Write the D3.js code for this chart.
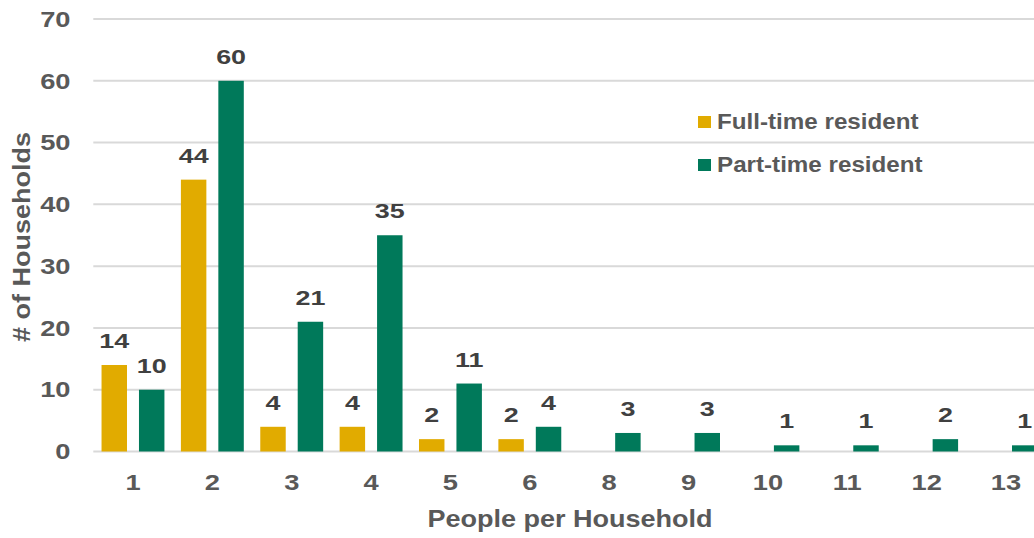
<!DOCTYPE html>
<html>
<head>
    <title>People per Household</title>
    <script src="https://cdnjs.cloudflare.com/ajax/libs/d3/7.8.5/d3.min.js"></script>
    <style>
        html, body { margin: 0; padding: 0; background: #fff; overflow: hidden; }
        svg { display: block; font-family: "Liberation Sans", Arial, sans-serif; font-weight: bold; }
        .grid line { stroke: #d9d9d9; stroke-width: 2px; }
        .tick-label { fill: #595959; font-size: 21.5px; }
        .data-label { fill: #404040; font-size: 21px; }
        .legend-label { fill: #595959; font-size: 22px; }
        .axis-title { fill: #595959; font-size: 23.5px; }
    </style>
</head>
<body>
    <div id="chart"></div>
    <script>
        // Chart data
        const categories = ["1", "2", "3", "4", "5", "6", "8", "9", "10", "11", "12", "13"];
        const fullTime = [14, 44, 4, 4, 2, 2, null, null, null, null, null, null];
        const partTime = [10, 60, 21, 35, 11, 4, 3, 3, 1, 1, 2, 1];
        const seriesNames = ["Full-time resident", "Part-time resident"];
        const yTicks = [0, 10, 20, 30, 40, 50, 60, 70];

        const colors = ["#e1ab00", "#00795a"];
        const W = 1034, H = 538;
        const plot = {left: 93.3, right: 1045.7, top: 19, bottom: 451.5};

        const svg = d3.select("#chart").append("svg")
            .attr("width", W)
            .attr("height", H);

        const x = d3.scaleBand().domain(categories).range([plot.left, plot.right]);
        const xInner = d3.scaleBand().domain(seriesNames)
            .range([0, x.bandwidth()])
            .paddingInner(0.32)
            .paddingOuter(0.22);
        const y = d3.scaleLinear().domain([0, 70]).range([plot.bottom, plot.top]);

        // place text, stretched horizontally (source font is wider than Arial)
        function place(sel, px, py, sx, rot) {
            return sel.attr("transform", `translate(${px},${py})${rot ? ` rotate(${rot})` : ""} scale(${sx},1)`);
        }

        // Gridlines
        svg.append("g").attr("class", "grid")
            .selectAll("line").data(yTicks).join("line")
            .attr("x1", plot.left).attr("x2", plot.right)
            .attr("y1", d => y(d)).attr("y2", d => y(d));

        // Y tick labels
        svg.append("g").selectAll("text").data(yTicks).join("text")
            .attr("class", "tick-label")
            .attr("text-anchor", "end")
            .attr("dy", "0.36em")
            .text(d => d)
            .each(function(d) { place(d3.select(this), 70.5, y(d), 1.27); });

        // X tick labels
        svg.append("g").selectAll("text").data(categories).join("text")
            .attr("class", "tick-label")
            .attr("text-anchor", "middle")
            .text(d => d)
            .each(function(d) { place(d3.select(this), x(d) + x.bandwidth() / 2, 490, 1.27); });

        // Bars
        const series = [fullTime, partTime];
        series.forEach((vals, si) => {
            const pts = categories.map((c, i) => ({c, v: vals[i]})).filter(d => d.v != null);
            const g = svg.append("g");
            g.selectAll("rect").data(pts).join("rect")
                .attr("x", d => x(d.c) + xInner(seriesNames[si]))
                .attr("width", xInner.bandwidth())
                .attr("y", d => y(d.v))
                .attr("height", d => y(0) - y(d.v))
                .attr("fill", colors[si]);
            g.selectAll("text").data(pts).join("text")
                .attr("class", "data-label")
                .attr("text-anchor", "middle")
                .text(d => d.v)
                .each(function(d) {
                    place(d3.select(this), x(d.c) + xInner(seriesNames[si]) + xInner.bandwidth() / 2, y(d.v) - 17, 1.28);
                });
        });

        // Legend
        const legend = svg.append("g");
        seriesNames.forEach((name, i) => {
            legend.append("rect")
                .attr("x", 698).attr("y", 116 + i * 43)
                .attr("width", 13).attr("height", 12)
                .attr("fill", colors[i]);
            place(legend.append("text").attr("class", "legend-label").text(name), 717, 129 + i * 43, 1.1);
        });

        // Axis titles
        place(svg.append("text").attr("class", "axis-title")
            .attr("text-anchor", "middle").text("People per Household"), 570, 527, 1.15);
        place(svg.append("text").attr("class", "axis-title")
            .attr("text-anchor", "middle").text("# of Households"), 30, 237, 1.15, -90);
    </script>
</body>
</html>
